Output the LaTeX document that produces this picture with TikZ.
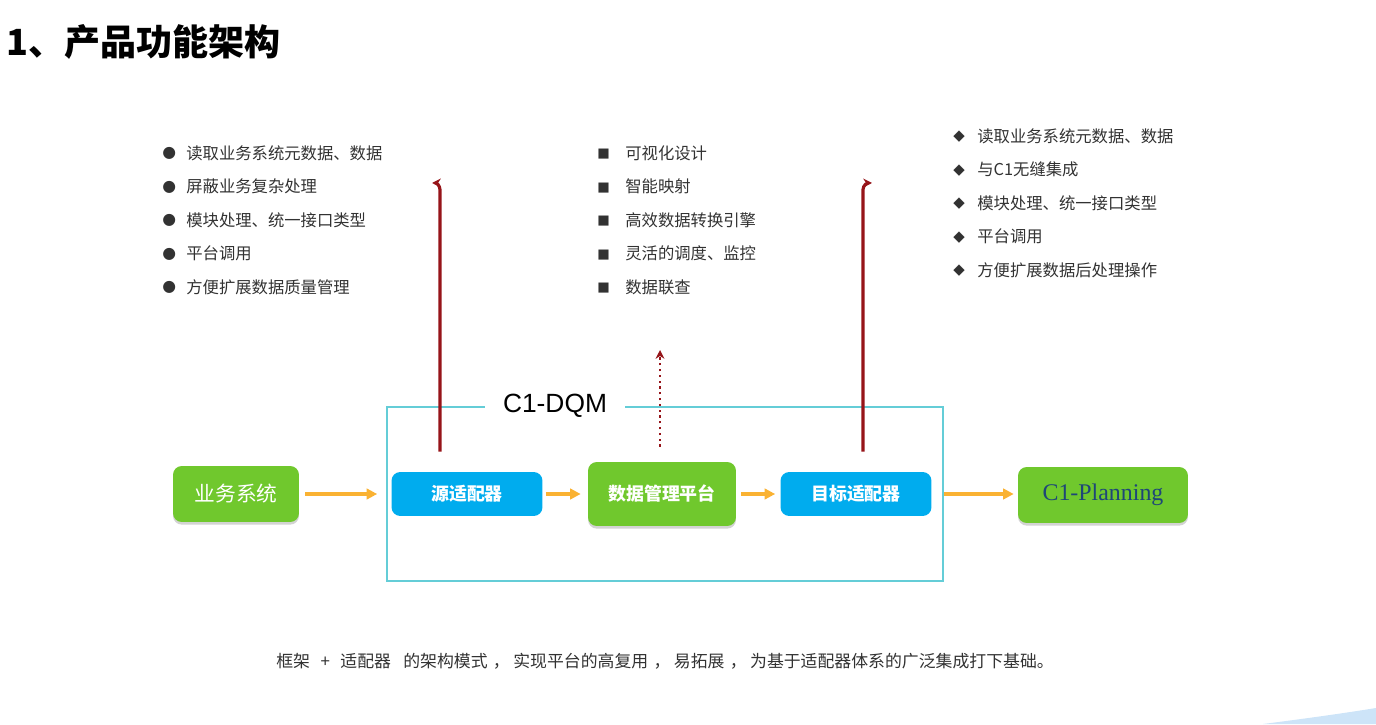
\documentclass[tikz,border=0pt]{standalone}
\usepackage{fontspec}
\setmainfont{Noto Sans CJK SC}
\newfontfamily\arialf{Liberation Sans}
\newfontfamily\timesf{Liberation Serif}
\newfontfamily\symf{DejaVu Sans}
\usetikzlibrary{arrows.meta,shadows,calc}

\definecolor{boxgreen}{RGB}{112,200,45}
\definecolor{boxblue}{RGB}{0,172,238}
\definecolor{flowor}{RGB}{250,178,50}
\definecolor{upred}{RGB}{150,20,25}
\definecolor{framecy}{RGB}{100,205,215}
\definecolor{txtgray}{RGB}{50,50,50}
\definecolor{planblue}{RGB}{30,70,120}
\definecolor{swoosh}{RGB}{205,228,248}

\tikzset{
    gbox/.style={fill=boxgreen, rounded corners=5pt, text=white, align=center,
        drop shadow={opacity=0.35, shadow xshift=0pt, shadow yshift=-1.5pt}},
    bbox/.style={fill=boxblue, rounded corners=5pt, text=white, minimum width=3.02cm,
        minimum height=0.88cm, font=\fontsize{10.2}{12}\selectfont\bfseries},
    flow/.style={-{Triangle[length=6pt,width=6pt]}, flowor, line width=2pt},
    uparr/.style={-{Stealth[length=5pt,width=5pt]}, upred, line width=1.8pt},
    item/.style={anchor=west, text=txtgray, inner sep=0pt, font=\fontsize{9.3}{11}\selectfont},
}

\begin{document}
\begin{tikzpicture}[x=0.02cm,y=0.02cm]
    \useasboundingbox (0,0) rectangle (1376,724);
    \fill[swoosh] (1263,0) .. controls (1310,6) and (1345,11) .. (1376,16) -- (1376,0) -- cycle;
    % title
    \node[anchor=west, inner sep=0pt, font=\fontsize{20.5}{24}\selectfont\bfseries] (title) at (6,682) {1、产品功能架构};
    % frame
    \draw[framecy, line width=0.9pt] (387,143) rectangle (943,317);
    \node[fill=white, inner xsep=10pt, font=\arialf\fontsize{15}{18}\selectfont] (dqm) at (555,318) {C1-DQM};
    % boxes
    \node[gbox, minimum width=2.52cm, minimum height=1.12cm, font=\fontsize{11.8}{14}\selectfont] (biz) at (236,230) {业务系统};
    \node[bbox] (src) at (467,230) {源适配器};
    \node[gbox, minimum width=2.96cm, minimum height=1.28cm, font=\fontsize{10.2}{12}\selectfont\bfseries] (dmp) at (662,230) {数据管理平台};
    \node[bbox] (tgt) at (856,230) {目标适配器};
    \node[gbox, minimum width=3.4cm, minimum height=1.12cm, text=planblue, font=\timesf\fontsize{13.6}{16}\selectfont] (plan) at (1103,229) {C1-Planning};
    % flow
    \draw[flow, shorten <=0.12cm, shorten >=0.28cm] (biz) -- (src);
    \draw[flow, shorten <=0.06cm, shorten >=0.14cm] (src) -- (dmp);
    \draw[flow, shorten <=0.1cm, shorten >=0.1cm] (dmp) -- (tgt);
    \draw[flow, shorten <=0.24cm, shorten >=0.08cm] (tgt) -- (plan.west |- tgt);
    % up arrows
    \coordinate (srcup) at (432,541);
    \coordinate (tgtup) at (872,541);
    \coordinate (dmpup) at (660,374);
    \draw[uparr] ($(src.north)+(-27,20)$) -- ++(0,262) to[out=90,in=0] (srcup);
    \draw[uparr] ($(tgt.north)+(7,20)$) -- ++(0,262) to[out=90,in=180] (tgtup);
    \draw[uparr, line width=1.3pt, dotted] ($(dmp.north)+(-2,15)$) -- (dmpup);
    % lists
    \foreach \t [count=\i] in {读取业务系统元数据、数据,屏蔽业务复杂处理,模块处理、统一接口类型,平台调用,方便扩展数据质量管理}
        \node[item] (l\i) at (162,604.5-33.5*\i) {\makebox[0.48cm][l]{\raisebox{0.8pt}{\symf\fontsize{9}{10}\selectfont ●}}\t};
    \foreach \t [count=\i] in {可视化设计,智能映射,高效数据转换引擎,灵活的调度、监控,数据联查}
        \node[item] (m\i) at (597,604.5-33.5*\i) {\makebox[0.56cm][l]{\raisebox{0.8pt}{\symf\fontsize{7.5}{10}\selectfont ■}}\t};
    \foreach \t [count=\i] in {读取业务系统元数据、数据,与C1无缝集成,模块处理、统一接口类型,平台调用,方便扩展数据后处理操作}
        \node[item] (r\i) at (953,621.5-33.5*\i) {\makebox[0.48cm][l]{\raisebox{0.8pt}{\symf\fontsize{8.5}{10}\selectfont ◆}}\t};
    % note
    \node[text=txtgray, font=\fontsize{9.6}{12}\selectfont] (note) at (665,63) {框架\hspace{6pt}+\hspace{6pt}适配器\hspace{7pt}的架构模式\hspace{3pt}，\hspace{2pt}实现平台的高复用\hspace{3pt}，\hspace{2pt}易拓展\hspace{3pt}，\hspace{2pt}为基于适配器体系的广泛集成打下基础。};
\end{tikzpicture}
\end{document}
